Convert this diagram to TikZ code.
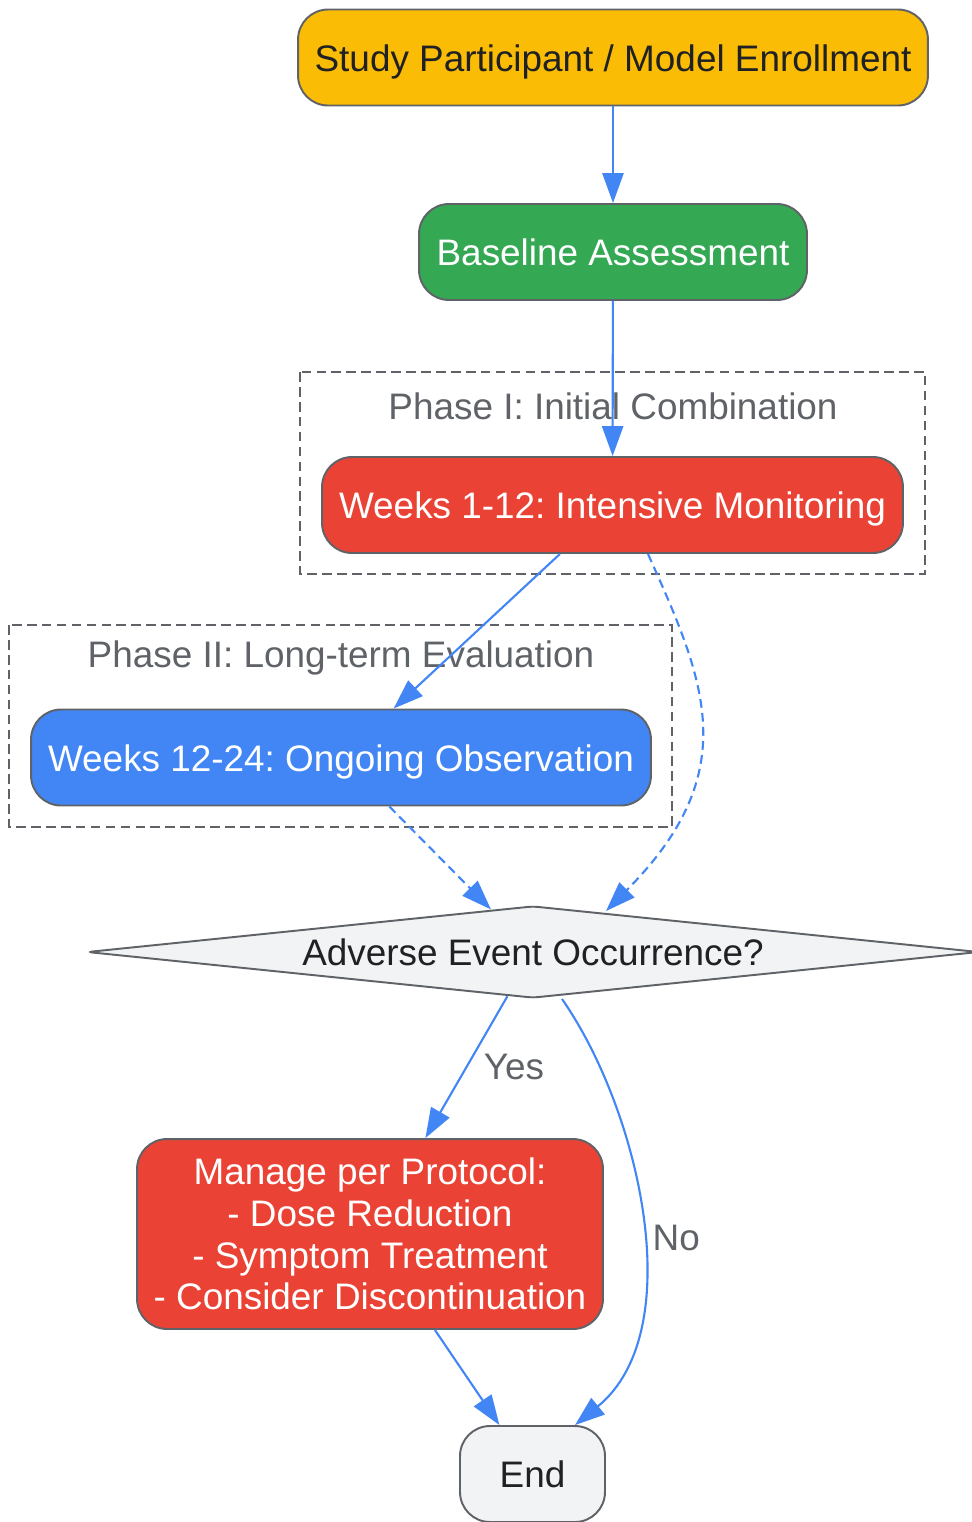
\documentclass[tikz,border=0pt]{standalone}
\usepackage{fontspec}
\setmainfont{Liberation Sans}
\usepackage{tikz}
\usetikzlibrary{shapes.geometric,arrows.meta}
\frenchspacing

\definecolor{gyellow}{HTML}{FBBC05}
\definecolor{ggreen}{HTML}{34A853}
\definecolor{gred}{HTML}{EA4335}
\definecolor{gblue}{HTML}{4285F4}
\definecolor{nodefill}{HTML}{F1F3F4}
\definecolor{edgegray}{HTML}{5F6368}
\definecolor{labelgray}{HTML}{5F6368}
\definecolor{darktext}{HTML}{202124}

\begin{document}
\begin{tikzpicture}[
    x=0.02cm, y=-0.02cm,
    font=\fontsize{21}{23.8}\selectfont,
    box/.style={rectangle, rounded corners=0.6cm, draw=edgegray, line width=1.1pt, minimum height=1.92cm, inner sep=0pt, align=center},
    oneline/.style={text height=15.5pt, text depth=0pt},
    startbox/.style={box, oneline, fill=gyellow, text=darktext},
    greenbox/.style={box, oneline, fill=ggreen, text=white},
    redbox/.style={box, fill=gred, text=white},
    bluebox/.style={box, oneline, fill=gblue, text=white},
    endbox/.style={box, oneline, fill=nodefill, text=darktext},
    decision/.style={diamond, aspect=9.6, draw=edgegray, fill=nodefill, line width=1.1pt, minimum width=17.84cm, minimum height=1.84cm, inner sep=0pt, rounded corners=3pt, text=darktext, oneline},
    phase/.style={draw=edgegray, line width=1.1pt, dash pattern=on 5.5pt off 3pt},
    phaselabel/.style={text=labelgray},
    flow/.style={draw=gblue, line width=1.2pt, -{Triangle[length=17pt,width=12pt]}},
    maybe/.style={flow, dash pattern=on 5pt off 3pt}
]
\useasboundingbox (0,0) rectangle (971,1522);

\draw [phase] (300,372) rectangle (925,574);
\node [phaselabel] (phaseone) at (613,406) {Phase I: Initial Combination};
\draw [phase] (9,625) rectangle (672,827);
\node [phaselabel] (phasetwo) at (341,658) {Phase II: Long-term Evaluation};

\node [startbox, minimum width=12.6cm] (enroll) at (613,57.5) {Study Participant / Model Enrollment};
\node [greenbox, minimum width=7.76cm] (baseline) at (613,252) {Baseline Assessment};
\node [redbox, oneline, minimum width=11.62cm] (intensive) at (612.5,505) {Weeks 1-12: Intensive Monitoring};
\node [bluebox, minimum width=12.4cm] (ongoing) at (341,757.5) {Weeks 12-24: Ongoing Observation};
\node [decision] (adverse) at (533,952) {Adverse Event Occurrence?};
\node [redbox, minimum width=9.32cm, minimum height=3.8cm] (manage) at (370,1234) {Manage per Protocol:\\- Dose Reduction\\- Symptom Treatment\\- Consider Discontinuation};
\node [endbox, minimum width=2.9cm] (finish) at (532.5,1474) {End};

\draw [flow] (enroll) -- (baseline);
\draw [flow] (baseline) -- (intensive);
\draw [flow] (intensive) -- (ongoing);
\draw [maybe] ([xshift=0.71cm]intensive.south) .. controls +(57,127) and +(139,-140) .. ([xshift=1.46cm,yshift=-0.12cm]adverse.north);
\draw [maybe] (ongoing) -- (adverse);
\draw [flow] (adverse) -- node [midway, right=6pt, text=labelgray] (yes) {Yes} (manage);
\draw [flow] ([xshift=0.58cm]adverse.south) .. controls +(78,112) and +(115,-94) .. node [pos=0.54, right=2pt, text=labelgray] (no) {No} ([xshift=0.85cm]finish.north);
\draw [flow] (manage) -- (finish);

\end{tikzpicture}
\end{document}
